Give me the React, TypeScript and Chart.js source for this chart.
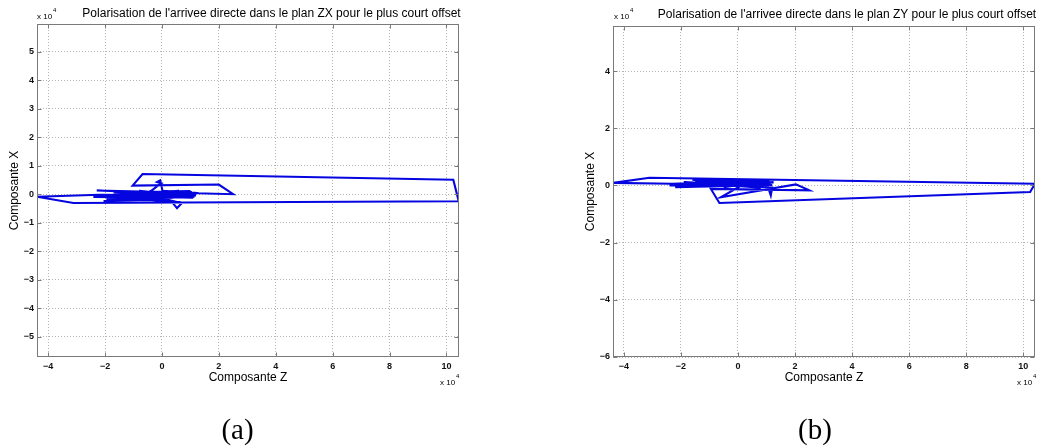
import React, { useEffect, useRef } from "react";
import { Chart, registerables } from "chart.js";

Chart.register(...registerables);

// ---------- data (values in units of 10^4) ----------
const EXPONENT = "4";
const xTickValues = [-4, -2, 0, 2, 4, 6, 8, 10];
const yTicksA = [-5, -4, -3, -2, -1, 0, 1, 2, 3, 4, 5];
const yTicksB = [-6, -4, -2, 0, 2, 4];

const zRangeA = [-4.39, 10.44];
const xRangeA = [-5.72, 5.98];
const zRangeB = [-4.38, 10.41];
const yRangeB = [-6.0, 5.58];

// Panel (a): Z component vs X component
const zA = [
  0.1, -0.55, 1.05, -1.45, 0.75, -2.29, 1.2, -1.95, 0.4, -2.41,
  1.1, -1.1, 0.85, -0.4, -0.14, -0.02, -0.17, -0.06, 0.02, 1.28,
  -0.85, 0.35, 0.53, 0.7, -0.3, 1.0, -1.7, 0.55, -2.05, 0.2,
  -0.8, 1.15, -0.2, 0.9, -0.6, 1.05, -1.3, 0.3, -0.9, 1.2,
  -2.2, -4.39, -3.11, 10.43, 10.24, -0.68,
  -1.03, 2.0, 2.5, 0.25, -0.7, 0.95, -0.15, 0.45, -1.1, 0.7,
  -0.45, 1.1, -1.6, 0.6, -0.25, 0.85, 0.05,
];
const xA = [
  0.03, -0.06, 0.08, -0.1, 0.02, 0.13, 0.05, -0.18, -0.12, -0.1,
  -0.06, 0.09, -0.11, 0.1, 0.3, 0.38, 0.43, 0.49, 0.12, 0.04,
  -0.17, -0.27, -0.49, -0.31, -0.08, 0.11, 0.06, -0.04, -0.24, -0.19,
  0.12, -0.09, 0.06, -0.02, -0.13, 0.07, -0.16, 0.1, 0.04, -0.04,
  -0.02, -0.09, -0.31, -0.25, 0.51, 0.71,
  0.3, 0.34, 0.0, 0.06, -0.04, 0.03, -0.03, 0.08, 0.01, -0.08,
  0.09, -0.12, -0.06, 0.12, -0.1, 0.05, 0.0,
];

// Panel (b): Z component vs Y component
const zB = [
  0.1, -1.2, 0.9, -2.4, 1.1, -1.6, 0.7, -0.9, 1.2, -2.2,
  0.4, -0.5, 0.95, -1.4, 1.2, 1.15, 1.05, -0.3, 0.8, -1.9,
  0.3, -0.7, 1.0, -1.1, 0.55, -0.2, 1.25, -1.7, 0.65, -2.3,
  -4.38, -3.1, 10.41, 10.24, -0.65, -0.95,
  2.5, 2.03, -0.6, 0.2, -1.0, 0.6, -0.4, 1.0, -1.5, 0.85, -0.1,
];
const yB = [
  0.05, 0.16, 0.08, 0.0, 0.13, 0.2, -0.04, 0.22, 0.02, -0.06,
  0.18, -0.06, 0.15, 0.05, -0.07, -0.35, -0.04, 0.2, -0.08, 0.12,
  0.01, 0.14, 0.06, -0.02, 0.21, 0.09, 0.11, -0.04, 0.17, 0.06,
  0.09, 0.27, 0.06, -0.23, -0.61, -0.12,
  -0.17, 0.04, -0.41, 0.05, 0.12, 0.1, 0.0, 0.05, 0.14, -0.02, 0.08,
];

const titleA = "Polarisation de l'arrivee directe dans le plan ZX pour le plus court offset";
const titleB = "Polarisation de l'arrivee directe dans le plan ZY pour le plus court offset";
const xAxisLabel = "Composante Z";
const yAxisLabel = "Composante X";

const SANS = '"Liberation Sans", Arial, Helvetica, sans-serif';

const fmt = (v: number) => (v < 0 ? "\u2212" + Math.abs(v) : String(v));

const decorPlugin = {
  id: "decor",
  afterDraw(chart: any, _args: any, opts: any) {
    const { ctx, chartArea: ca, scales } = chart;
    const xs = scales.x;
    const ys = scales.y;
    ctx.save();
    // frame + inward ticks
    ctx.strokeStyle = "#7a7a7a";
    ctx.lineWidth = 1;
    const L = Math.round(ca.left) + 0.5;
    const R = Math.round(ca.right) - 0.5;
    const T = Math.round(ca.top) + 0.5;
    const B = Math.round(ca.bottom) - 0.5;
    ctx.strokeRect(L, T, R - L, B - T);
    ctx.beginPath();
    xs.ticks.forEach((t: any) => {
      const p = Math.round(xs.getPixelForValue(t.value)) + 0.5;
      ctx.moveTo(p, B);
      ctx.lineTo(p, B - 4);
      ctx.moveTo(p, T);
      ctx.lineTo(p, T + 4);
    });
    ys.ticks.forEach((t: any) => {
      const p = Math.round(ys.getPixelForValue(t.value)) + 0.5;
      ctx.moveTo(L, p);
      ctx.lineTo(L + 4, p);
      ctx.moveTo(R, p);
      ctx.lineTo(R - 4, p);
    });
    ctx.stroke();

    ctx.fillStyle = "#000";
    ctx.textBaseline = "alphabetic";
    // title
    ctx.font = `12px ${SANS}`;
    ctx.textAlign = "center";
    ctx.fillText(opts.title, opts.titleX, opts.titleY);
    // axis labels
    ctx.font = `12px ${SANS}`;
    ctx.fillText(xAxisLabel, (ca.left + ca.right) / 2, opts.xLabelY);
    ctx.save();
    ctx.translate(opts.yLabelX, (ca.top + ca.bottom) / 2);
    ctx.rotate(-Math.PI / 2);
    ctx.textBaseline = "middle";
    ctx.fillText(yAxisLabel, 0, 0);
    ctx.restore();
    // exponent labels
    const drawExp = (x: number, y: number) => {
      ctx.textAlign = "left";
      ctx.font = `8px ${SANS}`;
      ctx.fillText("x 10", x, y);
      const w = ctx.measureText("x 10").width;
      ctx.font = `6px ${SANS}`;
      ctx.fillText(EXPONENT, x + w + 1, y - 7);
    };
    drawExp(opts.expTopX, 19);
    drawExp(opts.expBotX, 385);
    ctx.restore();
  },
};

type PanelProps = {
  zs: number[];
  vs: number[];
  zRange: number[];
  vRange: number[];
  yTicks: number[];
  title: string;
  width: number;
  left: number;
  padTop: number;
  padRight: number;
  yAxisW: number;
  titleX: number;
  titleY: number;
  yLabelX: number;
  expTopX: number;
  expBotX: number;
};

function Panel(p: PanelProps) {
  const ref = useRef<HTMLCanvasElement>(null);
  useEffect(() => {
    if (!ref.current) return;
    const points = p.zs.map((z, i) => ({ x: z, y: p.vs[i] }));
    const tickFont = { family: SANS, size: 9, weight: "bold" as const };
    const chart = new Chart(ref.current, {
      type: "scatter",
      data: {
        datasets: [
          {
            data: points,
            showLine: true,
            borderColor: "#0505e0",
            backgroundColor: "#0505e0",
            borderWidth: 2.1,
            pointRadius: 0,
            tension: 0,
          },
        ],
      },
      options: {
        animation: false,
        responsive: false,
        events: [],
        layout: { padding: { top: p.padTop, right: p.padRight, left: 0, bottom: 0 } },
        plugins: {
          legend: { display: false },
          tooltip: { enabled: false },
          title: { display: false },
          decor: {
            title: p.title,
            titleX: p.titleX,
            titleY: p.titleY,
            xLabelY: 381,
            yLabelX: p.yLabelX,
            expTopX: p.expTopX,
            expBotX: p.expBotX,
          },
        } as any,
        scales: {
          x: {
            type: "linear",
            min: p.zRange[0],
            max: p.zRange[1],
            afterBuildTicks: (s: any) => {
              s.ticks = xTickValues.map((v) => ({ value: v }));
            },
            afterFit: (s: any) => {
              s.height = 91;
            },
            ticks: {
              callback: (v: any) => fmt(Number(v)),
              autoSkip: false,
              maxRotation: 0,
              padding: 4,
              color: "#111",
              font: tickFont,
            },
            grid: { color: "#b4b4b4", lineWidth: 1, drawTicks: false },
            border: { display: false, dash: [1, 2] },
          },
          y: {
            type: "linear",
            min: p.vRange[0],
            max: p.vRange[1],
            afterBuildTicks: (s: any) => {
              s.ticks = p.yTicks.map((v) => ({ value: v }));
            },
            afterFit: (s: any) => {
              s.width = p.yAxisW;
            },
            ticks: {
              callback: (v: any) => fmt(Number(v)),
              autoSkip: false,
              padding: 3,
              color: "#111",
              font: tickFont,
            },
            grid: { color: "#b4b4b4", lineWidth: 1, drawTicks: false },
            border: { display: false, dash: [1, 2] },
          },
        },
      },
      plugins: [decorPlugin as any],
    });
    return () => chart.destroy();
  }, []);
  return (
    <canvas
      ref={ref}
      width={p.width}
      height={448}
      style={{ position: "absolute", left: p.left, top: 0, width: p.width, height: 448 }}
    />
  );
}

const captionStyle: React.CSSProperties = {
  position: "absolute",
  width: 100,
  top: 415,
  textAlign: "center",
  fontFamily: '"Liberation Serif", "Times New Roman", serif',
  fontSize: 29,
  lineHeight: "29px",
  color: "#000",
};

export default function App() {
  return (
    <div
      style={{
        position: "absolute",
        left: 0,
        top: 0,
        width: 1039,
        height: 448,
        background: "#fff",
        overflow: "hidden",
      }}
    >
      <Panel
        zs={zA}
        vs={xA}
        zRange={zRangeA}
        vRange={xRangeA}
        yTicks={yTicksA}
        title={titleA}
        width={520}
        left={0}
        padTop={24}
        padRight={61}
        yAxisW={37}
        titleX={271.5}
        titleY={17}
        yLabelX={14.5}
        expTopX={37}
        expBotX={440}
      />
      <Panel
        zs={zB}
        vs={yB}
        zRange={zRangeB}
        vRange={yRangeB}
        yTicks={yTicksB}
        title={titleB}
        width={519}
        left={520}
        padTop={26}
        padRight={4}
        yAxisW={93}
        titleX={327}
        titleY={18}
        yLabelX={71}
        expTopX={94}
        expBotX={497}
      />
      <div style={{ ...captionStyle, left: 237.5 - 50 }}>(a)</div>
      <div style={{ ...captionStyle, left: 815 - 50 }}>(b)</div>
    </div>
  );
}
